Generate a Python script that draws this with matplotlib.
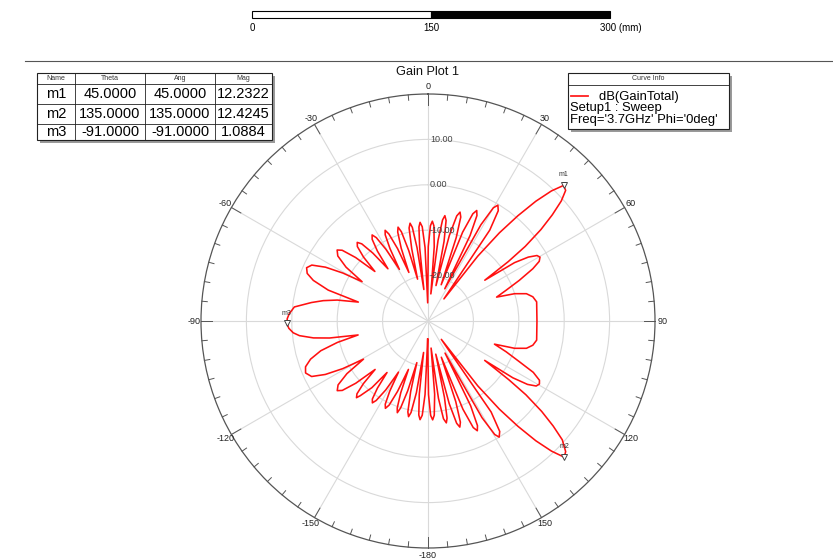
import numpy as np
import matplotlib
matplotlib.use("Agg")
import matplotlib.pyplot as plt
from matplotlib.patches import Rectangle

plt.rcParams['font.family'] = ['Liberation Sans', 'DejaVu Sans']

# ---------------- data ----------------
theta_deg = [
    -179, -177.7, -176.5, -175.4, -174.4, -173.2, -172, -170.8, -169.5, -168.5,
    -167.5, -166.2, -165, -163.8, -162.5, -161.5, -160.5, -159.2, -158, -156.6,
    -155.2, -154, -152.8, -151.4, -150, -148.5, -146.9, -145.8, -144.5, -143,
    -141.5, -139.9, -137.8, -137, -135.7, -134.1, -132.5, -130.75, -129, -127.5,
    -125.4, -123, -120.6, -119.2, -117.5, -115.5, -113, -110.5, -108, -105.5,
    -103.3, -101.3, -99.8, -98.4, -96.5, -95, -93, -91, -89, -87,
    -84, -81, -79, -77, -74.8, -72.8, -70.5, -68.5, -66.3, -64.3,
    -62.3, -60.6, -59.2, -56.7, -54.2, -52, -50.5, -48.75, -47, -45.25,
    -43.5, -42, -40.65, -39.1, -37.5, -35.9, -34.35, -33, -31.8, -30.4,
    -29, -27.7, -26.4, -25.3, -24.2, -22.8, -21.5, -20.2, -18.8, -17.7,
    -16.6, -15.3, -14, -12.7, -11.5, -10.4, -9.5, -8.5, -7.5, -6.5,
    -5.5, -4.6, -3.5, -2.3, -1, 0.2, 1.45, 2.5, 3.55, 4.8,
    6, 7.1, 8.2, 9.1, 10.2, 11.4, 12.7, 14.0, 15.3, 16.4,
    17.5, 18.7, 20, 21.3, 22.7, 23.8, 24.9, 26.2, 27.5, 28.8,
    30.0, 31.1, 32.5, 34.2, 35.8, 37.5, 39, 40.5, 42, 43.5,
    45, 46.5, 48, 49.5, 51, 52.5, 53.5, 54.3, 56, 57.5,
    59, 60.3, 61.8, 63.5, 66, 68.5, 70.8, 72.5, 74.5, 77,
    80, 85, 90, 95, 100, 103, 105.5, 107.5, 109.2, 111.5,
    114, 116, 118, 119.5, 121, 122.5, 123.8, 124.8, 126, 127,
    128.5, 130, 131.5, 133.5, 135, 136.5, 138, 139.5, 141, 142.5,
    144, 145.25, 147.0, 148.5, 149.55, 150.8, 152, 153.3, 154.7, 155.8,
    157.0, 158.4, 159.8, 161.0, 162.25, 163.3, 164.35, 165.6, 166.8, 167.85,
    168.9, 169.8, 171.0, 172.3, 173.5, 174.8, 176.2, 177.3, 178.4, 179.6,
    181,
]
gain_db = [
    -26, -13.8, -9.2, -8.2, -9.2, -13.8, -23, -14.0, -9.5, -8.5,
    -9.5, -14.0, -20.5, -14.0, -9.9, -8.7, -9.7, -13.1, -18.5, -13.1,
    -9.6, -8.6, -9.4, -12.4, -17, -12.2, -9.1, -8.2, -8.9, -11.5,
    -15.5, -10.8, -7.8, -6.9, -7.6, -10.2, -14.2, -9.0, -5.7, -4.8,
    -5.7, -8.7, -13.5, -8.5, -4.5, -1.6, -0.7, -1.2, -2.8, -5.5,
    -9.5, -14.3, -8, -4.5, -1.5, -0.2, 0.7, 1.09, 1.0, 0.6,
    -0.4, -4.0, -6.5, -9.5, -14.1, -7, -3.2, -1.4, -0.8, -1.6,
    -4.5, -8.5, -13.1, -8.4, -5.5, -4.6, -5.5, -8.8, -14, -10.0,
    -7.4, -6.7, -7.6, -10.7, -15.5, -11.0, -8.2, -7.4, -8.4, -11.7,
    -17, -12.0, -8.8, -7.9, -9.0, -12.7, -18.5, -12.9, -9.3, -8.3,
    -9.5, -13.9, -20.5, -13.7, -9.1, -8.1, -9.1, -13.7, -23, -13.8,
    -9.2, -8.2, -9.2, -13.8, -26, -13.6, -9.0, -8.0, -9.0, -13.6,
    -24, -12.1, -7.5, -6.5, -7.5, -12.1, -22, -10.6, -6.0, -5.0,
    -6.0, -10.6, -21.5, -9.0, -4.4, -3.4, -4.4, -9.0, -22, -5.8,
    -1.2, -0.2, -1.2, -5.8, -24, -12, -5, 0.5, 5.5, 9.5,
    12.23, 11.8, 9.5, 6, 2, -3, -8, -14.6, -7, -3.8,
    -2.0, -1.6, -2.2, -4.2, -8, -11.5, -14.0, -10, -7.5, -6.3,
    -5.7, -5.95, -6.0, -5.95, -5.7, -6.3, -7.5, -10, -14.5, -11.5,
    -8, -4.2, -2.2, -1.8, -2.2, -4.0, -7.5, -14.8, -8, -3,
    2, 6, 9.5, 11.8, 12.42, 9.5, 5.5, 0.5, -5, -12,
    -25, -5.6, -1.0, 0.0, -1.0, -5.6, -22, -9.1, -4.5, -3.5,
    -4.5, -9.1, -21.5, -11.2, -6.6, -5.6, -6.6, -11.2, -22.5, -12.8,
    -8.2, -7.2, -8.2, -12.8, -24, -13.8, -9.2, -8.2, -9.2, -13.8,
    -26,
]

marker_names = ['m1', 'm2', 'm3']
marker_theta = [45.0, 135.0, -91.0]
marker_mag = [12.2322, 12.4245, 1.0884]

r_ticks = [-20, -10, 0, 10]
r_tick_labels = ['-20.00', '-10.00', '0.00', '10.00']
angle_ticks = [0, 30, 60, 90, 120, 150, 180, 210, 240, 270, 300, 330]
angle_labels = ['0', '30', '60', '90', '120', '150', '-180', '-150', '-120', '-90', '-60', '-30']
r_min, r_max = -30, 20

legend_lines = ['dB(GainTotal)', 'Setup1 : Sweep', "Freq='3.7GHz' Phi='0deg'"]
table_header = ['Name', 'Theta', 'Ang', 'Mag']

# ---------------- figure ----------------
W, H = 833, 559
fig = plt.figure(figsize=(W / 100, H / 100), dpi=100)
fig.patch.set_facecolor('white')

ov = fig.add_axes([0, 0, 1, 1])
ov.set_xlim(0, W)
ov.set_ylim(H, 0)
ov.axis('off')

# scale bar
ov.add_patch(Rectangle((252, 11), 179, 7, facecolor='white', edgecolor='black', lw=0.8))
ov.add_patch(Rectangle((431, 11), 179, 7, facecolor='black', edgecolor='black', lw=0.8))
ov.text(252, 28, '0', ha='center', va='center', fontsize=7)
ov.text(431, 28, '150', ha='center', va='center', fontsize=7)
ov.text(600, 28, '300 (mm)', ha='left', va='center', fontsize=7)

# separator line
ov.plot([25, W], [61, 61], color='#555555', lw=0.8)

# title
ov.text(428, 72, 'Gain Plot 1', ha='center', va='center', fontsize=9.2, color='#111111')

# ---- marker table ----
tx = [37, 75, 145, 215, 272]
ty = [73, 84, 104, 124, 140]
ov.add_patch(Rectangle((tx[0] + 3, ty[0] + 3), tx[-1] - tx[0], ty[-1] - ty[0],
                       facecolor='#9a9a9a', edgecolor='none'))
ov.add_patch(Rectangle((tx[0], ty[0]), tx[-1] - tx[0], ty[-1] - ty[0],
                       facecolor='white', edgecolor='#222222', lw=0.8))
for x in tx[1:-1]:
    ov.plot([x, x], [ty[0], ty[-1]], color='#222222', lw=0.6)
for y in ty[1:-1]:
    ov.plot([tx[0], tx[-1]], [y, y], color='#222222', lw=0.6)
for i, h in enumerate(table_header):
    ov.text((tx[i] + tx[i + 1]) / 2, (ty[0] + ty[1]) / 2, h, ha='center', va='center',
            fontsize=5, color='#333333')
for j, name in enumerate(marker_names):
    yc = (ty[j + 1] + ty[j + 2]) / 2
    vals = [name, f'{marker_theta[j]:.4f}', f'{marker_theta[j]:.4f}', f'{marker_mag[j]:.4f}']
    for i, v in enumerate(vals):
        ov.text((tx[i] + tx[i + 1]) / 2, yc + 0.5, v, ha='center', va='center', fontsize=10.5)

# ---- curve info box ----
lx0, lx1, ly0, ly1 = 568, 729, 73, 129
ov.add_patch(Rectangle((lx0 + 3, ly0 + 3), lx1 - lx0, ly1 - ly0, facecolor='#9a9a9a', edgecolor='none'))
ov.add_patch(Rectangle((lx0, ly0), lx1 - lx0, ly1 - ly0, facecolor='white', edgecolor='#222222', lw=0.8))
ov.plot([lx0, lx1], [85, 85], color='#222222', lw=0.6)
ov.text((lx0 + lx1) / 2, 79, 'Curve Info', ha='center', va='center', fontsize=5, color='#333333')
ov.plot([571, 588], [96, 96], color='#ff2020', lw=1.3)
legend_block = ' ' * 8 + legend_lines[0] + '\n' + legend_lines[1] + '\n' + legend_lines[2]
ov.text(570, 108.5, legend_block, ha='left', va='center', fontsize=9.4, linespacing=0.9)

# ---------------- polar plot ----------------
cx, cy, R = 428, 321, 227
ax = fig.add_axes([(cx - R) / W, (H - cy - R) / H, 2 * R / W, 2 * R / H], projection='polar')
ax.set_facecolor('none')
ax.set_theta_zero_location('N')
ax.set_theta_direction(-1)
ax.set_ylim(r_min, r_max)
ax.set_rgrids(r_ticks, labels=[''] * len(r_ticks))
ax.set_thetagrids(angle_ticks, labels=[''] * len(angle_ticks))
ax.grid(True, color='#d9d9d9', lw=0.8)
ax.spines['polar'].set_color('#555555')
ax.spines['polar'].set_linewidth(0.9)
ax.tick_params(length=0)

# outer ticks
for a in range(0, 360, 5):
    L = 2.4 if a % 30 == 0 else 1.2
    ax.plot([np.deg2rad(a)] * 2, [r_max, r_max - L], color='#555555', lw=0.7, clip_on=False)

# angle labels
for a, lab in zip(angle_ticks, angle_labels):
    ax.text(np.deg2rad(a), r_max + 1.6, lab, ha='center', va='center', fontsize=6.5,
            color='#222222', clip_on=False)

# radial labels
for v, lab in zip(r_ticks, r_tick_labels):
    ax.annotate(lab, xy=(0, v), xytext=(1.5, 0), textcoords='offset points',
                ha='left', va='center', fontsize=6.5, color='#444444')

# curve
ax.plot(np.deg2rad(theta_deg), gain_db, color='#ff1010', lw=1.15, clip_on=False)

# markers
for name, t, m in zip(marker_names, marker_theta, marker_mag):
    ax.plot([np.deg2rad(t)], [m], marker='v', markersize=4, markerfacecolor='white',
            markeredgecolor='#444444', markeredgewidth=0.7, ls='none')
    ax.annotate(name, xy=(np.deg2rad(t), m), xytext=(0, 5), textcoords='offset points',
                ha='center', va='bottom', fontsize=5, color='#333333')

fig.savefig('out.png', dpi=100)
